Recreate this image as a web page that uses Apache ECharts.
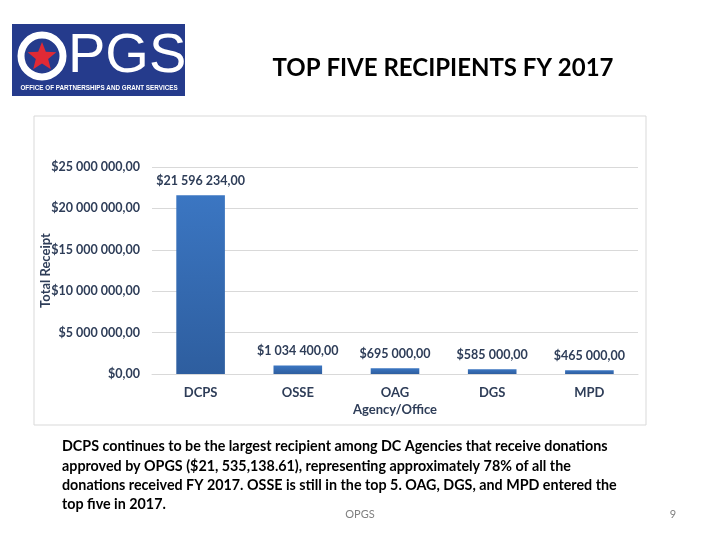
<!DOCTYPE html>
<html><head><meta charset="utf-8">
<script src="https://cdn.jsdelivr.net/npm/echarts@6/dist/echarts.min.js"></script>
<style>html,body{margin:0;padding:0;background:#fff}#c{width:720px;height:540px}</style>
</head><body><div id="c"></div>
<script>
const categories = ['DCPS', 'OSSE', 'OAG', 'DGS', 'MPD'];
const receipts = [21596234, 1034400, 695000, 585000, 465000];
const yTicks = { min: 0, max: 25000000, interval: 5000000 };
const titleText = 'TOP FIVE RECIPIENTS FY 2017';
const yAxisName = 'Total Receipt';
const xAxisName = 'Agency/Office';
const footerLines = [
  'DCPS continues to be the largest recipient among DC Agencies that receive donations',
  'approved by OPGS ($21, 535,138.61), representing approximately 78% of all the',
  'donations received FY 2017. OSSE is still in the top 5. OAG, DGS, and MPD entered the',
  'top five in 2017.'
];

const FONT = 'Lato, "Open Sans", sans-serif';
const TXT = '#2e3d58';
function money(v) {
  const parts = Math.round(v).toString().replace(/\B(?=(\d{3})+(?!\d))/g, ' ');
  return '$' + parts + ',00';
}
function starPoints(cx, cy, R, r) {
  const pts = [];
  for (let i = 0; i < 10; i++) {
    const a = -Math.PI / 2 + i * Math.PI / 5;
    const rad = i % 2 === 0 ? R : r;
    pts.push([cx + rad * Math.cos(a), cy + rad * Math.sin(a)]);
  }
  return pts;
}

const chart = echarts.init(document.getElementById('c'), null, { renderer: 'canvas' });
chart.setOption({
  animation: false,
  textStyle: { fontFamily: FONT },
  grid: { left: 152, right: 82, top: 167, bottom: 166 },
  xAxis: {
    type: 'category',
    data: categories,
    name: xAxisName,
    nameLocation: 'middle',
    nameGap: 29,
    nameTextStyle: { color: TXT, fontSize: 13, fontWeight: 'bold', fontFamily: FONT },
    axisLine: { show: true, lineStyle: { color: '#d9d9d9' } },
    axisTick: { show: false },
    axisLabel: { color: TXT, fontSize: 13, fontWeight: 'bold', margin: 12, fontFamily: FONT }
  },
  yAxis: {
    type: 'value',
    min: yTicks.min, max: yTicks.max, interval: yTicks.interval,
    name: yAxisName,
    nameLocation: 'middle',
    nameGap: 100,
    nameMoveOverlap: false,
    nameTextStyle: { color: TXT, fontSize: 13, fontWeight: 'bold', fontFamily: FONT },
    axisLine: { show: false },
    axisTick: { show: false },
    splitLine: { lineStyle: { color: '#d9d9d9' } },
    axisLabel: { color: TXT, fontSize: 12.5, fontWeight: 'bold', margin: 12, fontFamily: FONT, formatter: v => money(v) }
  },
  series: [{
    type: 'bar',
    data: receipts,
    barWidth: '50%',
    itemStyle: {
      color: new echarts.graphic.LinearGradient(0, 0, 0, 1, [
        { offset: 0, color: '#3b76c2' },
        { offset: 1, color: '#2e5e9f' }
      ])
    },
    label: {
      show: true, position: 'top', distance: 8,
      color: TXT, fontSize: 12.5, fontWeight: 'bold', fontFamily: FONT,
      formatter: p => money(p.value)
    }
  }],
  graphic: [
    { type: 'rect', shape: { x: 34, y: 116, width: 612, height: 309 }, style: { fill: 'none', stroke: '#d9d9d9', lineWidth: 1 }, z: -1 },
    { type: 'rect', shape: { x: 12, y: 24, width: 173, height: 72 }, style: { fill: '#253b8c' } },
    { type: 'circle', shape: { cx: 42, cy: 56, r: 21 }, style: { fill: 'none', stroke: '#ffffff', lineWidth: 7 } },
    { type: 'polygon', shape: { points: starPoints(42, 57, 15, 6.5) }, style: { fill: '#e02a35' } },
    { type: 'text', style: { x: 68, y: 57, text: 'PGS', fill: '#ffffff', font: '56px "Liberation Sans", sans-serif', textAlign: 'left', textVerticalAlign: 'middle' } },
    { type: 'text', style: { x: 99, y: 88, text: 'OFFICE OF PARTNERSHIPS AND GRANT SERVICES', fill: '#ffffff', font: 'bold 6.3px "Liberation Sans", sans-serif', textAlign: 'center', textVerticalAlign: 'middle' } },
    { type: 'text', style: { x: 443, y: 68, text: titleText, fill: '#000000', font: 'bold 24px ' + FONT, textAlign: 'center', textVerticalAlign: 'middle' } },
    { type: 'text', style: { x: 62, y: 437, text: footerLines.join('\n'), fill: '#000000', font: 'bold 14.3px ' + FONT, lineHeight: 19.3, textAlign: 'left', textVerticalAlign: 'top' } },
    { type: 'text', style: { x: 360, y: 514, text: 'OPGS', fill: '#808080', font: '11px ' + FONT, textAlign: 'center', textVerticalAlign: 'middle' } },
    { type: 'text', style: { x: 673, y: 514, text: '9', fill: '#808080', font: '11px ' + FONT, textAlign: 'center', textVerticalAlign: 'middle' } }
  ]
});
</script></body></html>
